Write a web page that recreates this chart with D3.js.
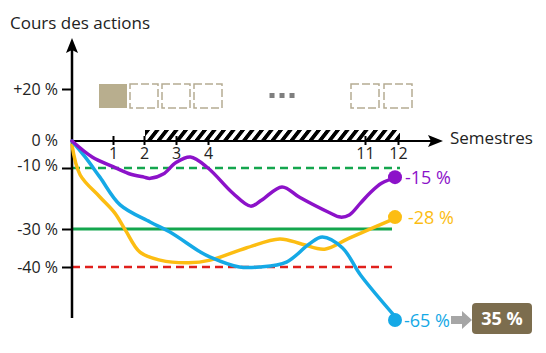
<!DOCTYPE html>
<html>
<head>
<meta charset="utf-8">
<script src="https://cdn.jsdelivr.net/npm/d3@7"></script>
<style>
  body { margin: 0; background: #fff; }
  svg { display: block; font-family: "Open Sans", sans-serif; }
</style>
</head>
<body>
<div id="chart"></div>
<script>
// ---- data ----
const semesterTicks = [1, 2, 3, 4, 11, 12];
const yTickValues = [20, 0, -10, -30, -40];
const yTickLabels = ["+20 %", "0 %", "-10 %", "-30 %", "-40 %"];
const refLineValues = [-10, -30, -40];
const boxSemesters = [1, 2, 3, 4, 11, 12];
const filledBoxSemester = 1;

// [semestre, variation en %]
const purpleSeries = [[0, 0], [0.5, -6], [1, -9.5], [1.5, -11.8], [2, -13], [2.2, -13.4], [2.6, -12],
  [3, -8], [3.45, -5.9], [4, -10], [5.1, -18.2], [5.9, -22.5], [6.4, -20.5], [7.3, -16.2],
  [8.1, -19.7], [9.4, -24.6], [9.9, -26.1], [10.3, -25.4], [10.8, -21.5], [11.15, -18.2],
  [11.5, -15], [12, -13]];
const yellowSeries = [[0, -1.5], [0.2, -12.3], [0.68, -19.5], [1.06, -24.8], [1.4, -30.3],
  [1.87, -36.1], [2.5, -38.2], [3.4, -38.9], [4.1, -38.2], [5.7, -35], [7.2, -32.6],
  [8.2, -34], [9.2, -35.3], [10.3, -32.4], [12, -26.1]];
const blueSeries = [[0, 0], [0.32, -5.9], [0.68, -13], [1.23, -22.1], [2.19, -27.7],
  [2.81, -30.8], [3.75, -36], [4.1, -37.4], [5.4, -40], [6.3, -40], [7.5, -38.7],
  [8.5, -34], [9.1, -32.1], [10, -35], [10.8, -43.8], [12, -65]];

const endLabels = ["-15 %", "-28 %", "-65 %"];
const resultLabel = "35 %";

// ---- chart ----
const width = 546, height = 353;
const svg = d3.select("#chart").append("svg")
    .attr("width", width)
    .attr("height", height);

// axes with a break: piecewise scales
const x = d3.scaleLinear()
    .domain([0, 1, 2, 3, 4, 11, 12])
    .range([72, 113, 144, 176, 208, 365, 398]);
const y = d3.scaleLinear()
    .domain([20, 0, -10, -30, -40, -65])
    .range([89, 141, 168, 229, 267, 320]);

const purple = "#8c12c9", yellow = "#fcbd12", blue = "#15a9e6",
      green = "#14a64e", red = "#e0201c";

// hatch pattern
const defs = svg.append("defs");
defs.append("pattern")
    .attr("id", "hatch")
    .attr("patternUnits", "userSpaceOnUse")
    .attr("width", 9.5).attr("height", 12)
    .attr("y", 130)
    .attr("patternTransform", "skewX(-38)")
  .append("rect")
    .attr("width", 4.8).attr("height", 12)
    .attr("fill", "#000");

// reference lines
const refStyles = [
  {color: green, dash: "8,5", w: 2.5},
  {color: green, dash: null, w: 3},
  {color: red, dash: "8,5", w: 2.5}
];
svg.append("g").selectAll("line")
  .data(refLineValues)
  .join("line")
    .attr("x1", x(0))
    .attr("x2", (d, i) => x(12) - [-2, 6, 2][i])
    .attr("y1", d => y(d))
    .attr("y2", d => y(d))
    .attr("stroke", (d, i) => refStyles[i].color)
    .attr("stroke-width", (d, i) => refStyles[i].w)
    .attr("stroke-dasharray", (d, i) => refStyles[i].dash);

// semester boxes
svg.append("g").selectAll("rect")
  .data(boxSemesters)
  .join("rect")
    .attr("x", d => x(d) - 14)
    .attr("y", 84)
    .attr("width", 28)
    .attr("height", 24)
    .attr("fill", d => d === filledBoxSemester ? "#b8ae8e" : "none")
    .attr("stroke", d => d === filledBoxSemester ? "none" : "#b5ac93")
    .attr("stroke-width", 1.5)
    .attr("stroke-dasharray", "8,3");

// "..." between the boxes
svg.append("g").selectAll("rect")
  .data([-1, 0, 1])
  .join("rect")
    .attr("x", d => x(7.3) - 2.5 + d * 10)
    .attr("y", 93)
    .attr("width", 5).attr("height", 5)
    .attr("fill", "#7f7f7f");

// y axis
const yAxis = svg.append("g")
    .attr("transform", "translate(" + x(0) + ",0)")
    .call(d3.axisLeft(y)
      .tickValues(yTickValues)
      .tickFormat(d => yTickLabels[yTickValues.indexOf(d)])
      .tickSize(10)
      .tickPadding(4));
yAxis.select(".domain").remove();
yAxis.selectAll(".tick line")
    .attr("stroke", "#000").attr("stroke-width", 2)
    .attr("display", d => d === 0 ? "none" : null);
yAxis.selectAll(".tick text")
    .attr("font-size", 16).attr("fill", "#222")
    .attr("font-family", "Open Sans, sans-serif")
    .attr("y", d => d === -10 ? -3 : d === 0 ? -1 : 0);

// x axis
const xAxis = svg.append("g")
    .attr("transform", "translate(0," + y(0) + ")")
    .call(d3.axisBottom(x)
      .tickValues(semesterTicks)
      .tickSize(4)
      .tickPadding(3));
xAxis.select(".domain").remove();
xAxis.selectAll(".tick line")
    .attr("y1", -5).attr("stroke", "#000").attr("stroke-width", 2);
xAxis.selectAll(".tick text")
    .attr("font-size", 16).attr("fill", "#222")
    .attr("font-family", "Open Sans, sans-serif");

// axis lines with arrow heads
svg.append("line")
    .attr("x1", x(0)).attr("x2", x(0))
    .attr("y1", 318).attr("y2", 50)
    .attr("stroke", "#000").attr("stroke-width", 2.5);
svg.append("path")
    .attr("d", "M" + x(0) + ",38 l-6,15 l6,-3 l6,3 z")
    .attr("fill", "#000");
svg.append("line")
    .attr("x1", x(0)).attr("x2", 432)
    .attr("y1", y(0)).attr("y2", y(0))
    .attr("stroke", "#000").attr("stroke-width", 2);
svg.append("path")
    .attr("d", "M443," + y(0) + " l-15,-6 l3,6 l-3,6 z")
    .attr("fill", "#000");

// hatched band from semester 2 to 12
svg.append("rect")
    .attr("x", x(2) + 1)
    .attr("y", 130)
    .attr("width", 400 - x(2) - 1)
    .attr("height", 12)
    .attr("fill", "url(#hatch)");

// axis titles
svg.append("text")
    .attr("x", 10).attr("y", 29)
    .attr("font-size", 17).attr("fill", "#222")
    .text("Cours des actions");
svg.append("text")
    .attr("x", 450).attr("y", 144)
    .attr("font-size", 17).attr("fill", "#222")
    .text("Semestres");

// curves
const line = d3.line()
    .x(d => x(d[0]))
    .y(d => y(d[1]))
    .curve(d3.curveCatmullRom.alpha(0.5));

const series = [
  {data: yellowSeries, color: yellow, label: endLabels[1], dx: 10},
  {data: blueSeries, color: blue, label: endLabels[2], dx: 6},
  {data: purpleSeries, color: purple, label: endLabels[0], dx: 7}
];

series.forEach(s => {
  svg.append("path")
      .datum(s.data)
      .attr("d", line)
      .attr("fill", "none")
      .attr("stroke", s.color)
      .attr("stroke-width", 3.5)
      .attr("stroke-linecap", "round");
  const last = s.data[s.data.length - 1];
  svg.append("circle")
      .attr("cx", x(last[0]) - 3)
      .attr("cy", y(last[1]))
      .attr("r", 7)
      .attr("fill", s.color);
  svg.append("text")
      .attr("x", x(last[0]) + s.dx)
      .attr("y", y(last[1]) + 1)
      .attr("dy", "0.35em")
      .attr("font-size", 18)
      .attr("fill", s.color)
      .text(s.label);
});

// grey arrow and result box
const yEnd = y(blueSeries[blueSeries.length - 1][1]);
svg.append("path")
    .attr("d", "M451," + (yEnd - 4) + " h11 v-5 l10,9 l-10,9 v-5 h-11 z")
    .attr("fill", "#a6a6a6");
svg.append("rect")
    .attr("x", 472).attr("y", yEnd - 17)
    .attr("width", 60).attr("height", 31)
    .attr("rx", 4)
    .attr("fill", "#7c6d4e");
svg.append("text")
    .attr("x", 502).attr("y", yEnd - 1)
    .attr("dy", "0.35em")
    .attr("text-anchor", "middle")
    .attr("font-size", 18)
    .attr("font-weight", "bold")
    .attr("fill", "#fff")
    .text(resultLabel);
</script>
</body>
</html>
